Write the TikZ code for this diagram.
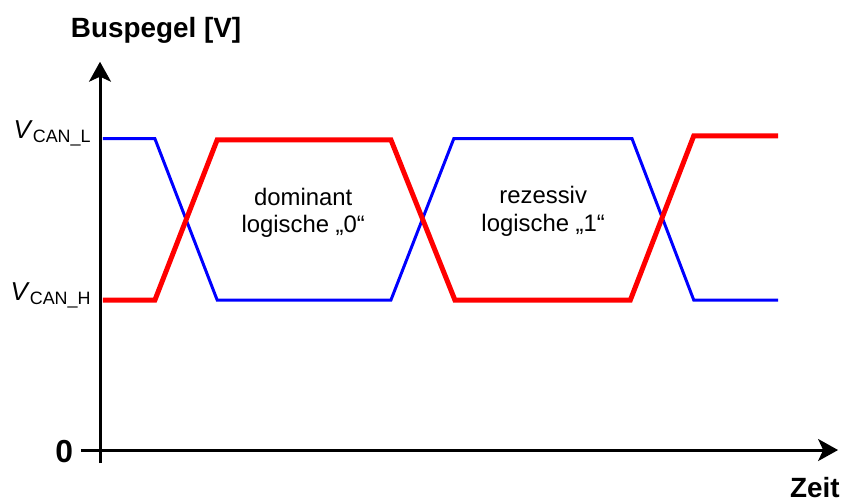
\documentclass[tikz,border=0pt]{standalone}
\usepackage{fontspec}
\setmainfont{Liberation Sans}
\usetikzlibrary{arrows.meta}

\begin{document}
\begin{tikzpicture}[>={Stealth[length=10pt,width=11pt,inset=2.5pt]}]
    \useasboundingbox (-1.767,-0.936) rectangle (13.233,7.951);
    % Achsen
    \draw[->,line width=1.5pt] (-0.34,0) -- (13.04,0);
    \draw[->,line width=1.5pt] (0,-0.23) -- (0,6.86);
    \node[font=\bfseries\fontsize{14}{16}\selectfont] at (0.99,7.42) {Buspegel [V]};
    \node[font=\bfseries\fontsize{14}{16}\selectfont] at (12.63,-0.67) {Zeit};
    \node[anchor=east,inner sep=0pt,font=\bfseries\fontsize{16}{18}\selectfont] at (-0.47,-0.03) {0};
    \node[anchor=base east,inner sep=0pt] at (-0.16,5.5)
        {\fontsize{13}{15}\selectfont\textit{V}\raisebox{-2pt}{\fontsize{9}{10}\selectfont CAN\_L}};
    \node[anchor=base east,inner sep=0pt] at (-0.16,2.65)
        {\fontsize{13}{15}\selectfont\textit{V}\raisebox{-2pt}{\fontsize{9}{10}\selectfont CAN\_H}};
    % CAN_L (blau) und CAN_H (rot)
    \draw[blue,line width=1.5pt,line join=miter] (0.05,5.5) -- (0.97,5.5) -- (2.07,2.65) -- (5.14,2.65)
        -- (6.25,5.5) -- (9.4,5.5) -- (10.49,2.65) -- (11.98,2.65);
    \draw[red,line width=2.5pt,line join=miter] (0.05,2.65) -- (0.97,2.65) -- (2.07,5.48) -- (5.14,5.48)
        -- (6.27,2.65) -- (9.37,2.65) -- (10.49,5.55) -- (11.98,5.55);
    \node[align=center,font=\fontsize{12}{14}\selectfont] at (3.59,4.19) {dominant\\logische „0“};
    \node[align=center,font=\fontsize{12}{14}\selectfont] at (7.83,4.22) {rezessiv\\logische „1“};
\end{tikzpicture}
\end{document}
